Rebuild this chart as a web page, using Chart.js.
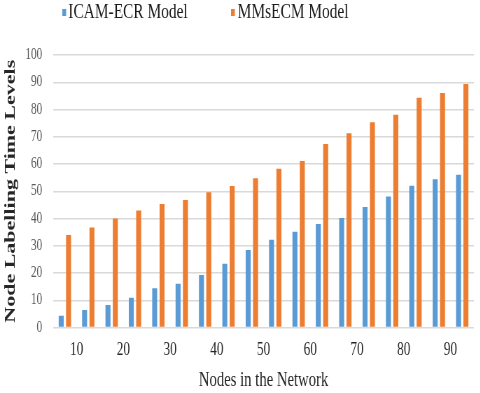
<!DOCTYPE html>
<html><head><meta charset="utf-8">
<script src="https://cdn.jsdelivr.net/npm/chart.js@4"></script>
<style>
html,body{margin:0;padding:0;overflow:hidden;background:#fff;width:480px;height:393px}
#wrap{position:absolute;left:0;top:0;width:686px;height:393px;transform:scaleX(0.7);transform-origin:0 0}
</style></head><body>
<div id="wrap"><canvas id="c"></canvas></div>
<script>
const categories = ['5','10','15','20','25','30','35','40','45','50','55','60','65','70','75','80','85','90'];
const tickLabels = ['10','20','30','40','50','60','70','80','90'];
const icamEcr = [4.3,6.4,8.3,10.9,14.4,16.1,19.3,23.4,28.4,32.2,35.1,38.0,40.2,44.2,48.1,52.0,54.4,56.1];
const mmsEcm  = [33.9,36.7,40.0,42.9,45.3,46.8,49.6,51.9,54.8,58.3,61.1,67.3,71.3,75.3,78.1,84.3,86.1,89.4];
const seriesNames = ['ICAM-ECR Model','MMsECM Model'];
const seriesColors = ['#5B9BD5','#ED7D31'];

const FAM = '"Liberation Serif","Times New Roman",serif';

const legendPlugin = {
  id: 'customLegend',
  afterDraw(chart) {
    const ctx = chart.ctx;
    const pos = [{box: 89, text: 97.6}, {box: 330, text: 339.6}];
    ctx.save();
    ctx.font = '22px ' + FAM;
    ctx.textBaseline = 'middle';
    ctx.textAlign = 'left';
    chart.data.datasets.forEach((ds, i) => {
      ctx.fillStyle = ds.backgroundColor;
      ctx.fillRect(pos[i].box, 9, 5.5, 7);
      ctx.fillStyle = '#1a1a1a';
      ctx.fillText(ds.label, pos[i].text, 12.5);
    });
    ctx.restore();
  }
};

new Chart(document.getElementById('c'), {
  type: 'bar',
  data: {
    labels: categories,
    datasets: [
      {label: seriesNames[0], data: icamEcr, backgroundColor: seriesColors[0], borderWidth: 0, categoryPercentage: 0.63, barPercentage: 0.68},
      {label: seriesNames[1], data: mmsEcm, backgroundColor: seriesColors[1], borderWidth: 0, categoryPercentage: 0.63, barPercentage: 0.68}
    ]
  },
  options: {
    responsive: true,
    maintainAspectRatio: false,
    animation: false,
    layout: {padding: {top: 55, right: 9, bottom: 0, left: 0}},
    plugins: {legend: {display: false}, tooltip: {enabled: false}},
    scales: {
      x: {display: false, offset: true},
      x2: {
        type: 'category', labels: tickLabels, position: 'bottom', offset: true,
        grid: {display: false, drawTicks: false}, border: {display: false},
        ticks: {font: {family: FAM, size: 19}, color: '#262626', padding: 11, maxRotation: 0, autoSkip: false},
        title: {display: true, text: 'Nodes in the Network', font: {family: FAM, size: 21}, color: '#262626', padding: {top: 6.5, bottom: 0}},
        afterFit(scale) { scale.height = 65.5; }
      },
      y: {
        min: 0, max: 100,
        ticks: {stepSize: 10, font: {family: FAM, size: 16}, color: '#595959', padding: 15.7},
        grid: {color: '#d9d9d9', lineWidth: 1.5, drawTicks: false},
        border: {display: false},
        title: {display: true, text: 'Node Labelling Time Levels', font: {family: FAM, size: 22, weight: 'bold'}, color: '#262626', padding: {top: 2.5, bottom: 7}},
        afterFit(scale) { scale.width = 76; }
      }
    }
  },
  plugins: [legendPlugin]
});
</script>
</body></html>
